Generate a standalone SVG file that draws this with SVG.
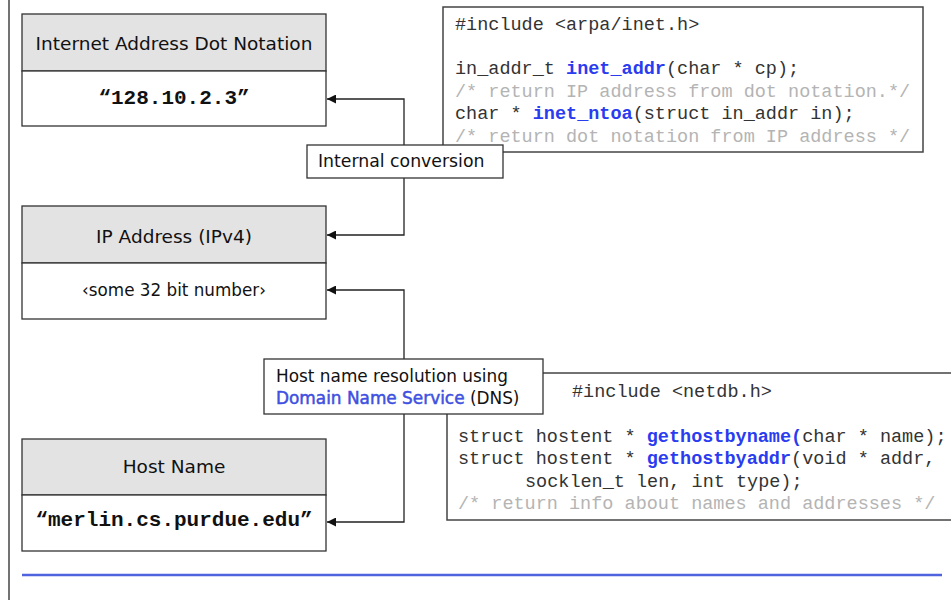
<svg xmlns="http://www.w3.org/2000/svg" width="951" height="600" viewBox="0 0 951 600">
<style>
.box{fill:#fff;stroke:#333;stroke-width:1.3}
.hdr{fill:#e3e3e3;stroke:#333;stroke-width:1.3}
.lbl{font-family:"DejaVu Sans","Noto Sans",sans-serif;font-size:18.5px;fill:#111;text-anchor:middle}
.val{font-family:"Liberation Mono","Courier New",monospace;font-size:21px;font-weight:bold;fill:#111;text-anchor:middle}
.code{font-family:"Liberation Mono","Courier New",monospace;font-size:18.5px;fill:#333}
.fn{font-weight:bold;fill:#2a3cf0}
.cm{fill:#b4b4b4}
.cbox{fill:#fff;stroke:#444;stroke-width:1.5}
.note{font-family:"DejaVu Sans","Noto Sans",sans-serif;fill:#111}
.conn{fill:none;stroke:#222;stroke-width:1.3}
</style>
<defs>
<marker id="arr" viewBox="0 0 10 10" refX="10" refY="5" markerWidth="11" markerHeight="9" markerUnits="userSpaceOnUse" orient="auto">
<path d="M0,0 L10,5 L0,10 z" fill="#111"/>
</marker>
</defs>
<rect width="951" height="600" fill="#fff"/>
<line x1="9" y1="0" x2="9" y2="600" stroke="#444" stroke-width="1.5"/>
<line x1="22" y1="575" x2="942" y2="575" stroke="#5063de" stroke-width="2.5"/>

<g id="code-inet">
<rect class="cbox" x="443" y="7" width="480" height="145"/>
<text class="code" x="455" y="29.5">#include &lt;arpa/inet.h&gt;</text>
<text class="code" x="455" y="74">in_addr_t <tspan class="fn">inet_addr</tspan>(char * cp);</text>
<text class="code cm" x="455" y="96.5">/* return IP address from dot notation.*/</text>
<text class="code" x="455" y="119">char * <tspan class="fn">inet_ntoa</tspan>(struct in_addr in);</text>
<text class="code cm" x="455" y="141.5">/* return dot notation from IP address */</text>
</g>

<g id="code-netdb">
<rect class="cbox" x="447" y="373" width="520" height="147"/>
<text class="code" x="572" y="397">#include &lt;netdb.h&gt;</text>
<text class="code" x="458" y="442">struct hostent * <tspan class="fn">gethostbyname(</tspan>char * name);</text>
<text class="code" x="458" y="464">struct hostent * <tspan class="fn">gethostbyaddr</tspan>(void * addr,</text>
<text class="code" x="525" y="487">socklen_t len, int type);</text>
<text class="code cm" x="458" y="509">/* return info about names and addresses */</text>
</g>

<g id="connectors">
<path class="conn" d="M404,145 V99 H327" marker-end="url(#arr)"/>
<path class="conn" d="M404,178 V235 H327" marker-end="url(#arr)"/>
<path class="conn" d="M404,359 V290 H327" marker-end="url(#arr)"/>
<path class="conn" d="M404,414 V522 H327" marker-end="url(#arr)"/>
</g>

<g id="node-dot">
<rect class="hdr" x="22" y="14" width="304" height="57"/>
<rect class="box" x="22" y="71" width="304" height="55"/>
<text class="lbl" x="174" y="50">Internet Address Dot Notation</text>
<text class="val" x="174" y="104">“128.10.2.3”</text>
</g>

<g id="node-ip">
<rect class="hdr" x="22" y="206" width="304" height="57"/>
<rect class="box" x="22" y="263" width="304" height="56"/>
<text class="lbl" x="174" y="243">IP Address (IPv4)</text>
<text class="lbl" x="174" y="296" style="font-size:16.8px">‹some 32 bit number›</text>
</g>

<g id="node-host">
<rect class="hdr" x="22" y="439" width="304" height="56"/>
<rect class="box" x="22" y="495" width="304" height="56"/>
<text class="lbl" x="174" y="473">Host Name</text>
<text class="val" x="174" y="526">“merlin.cs.purdue.edu”</text>
</g>

<g id="conversion">
<rect class="box" x="307" y="145" width="196" height="33"/>
<text class="note" x="318" y="167" style="font-size:17.3px">Internal conversion</text>
</g>

<g id="dns">
<rect class="box" x="264" y="359" width="279" height="55"/>
<text class="note" x="276" y="382" style="font-size:16.9px">Host name resolution using</text>
<text class="note" x="276" y="404" style="font-size:16.9px"><tspan fill="#4050e0" stroke="#4050e0" stroke-width="0.5">Domain Name Service</tspan> (DNS)</text>
</g>
</svg>
